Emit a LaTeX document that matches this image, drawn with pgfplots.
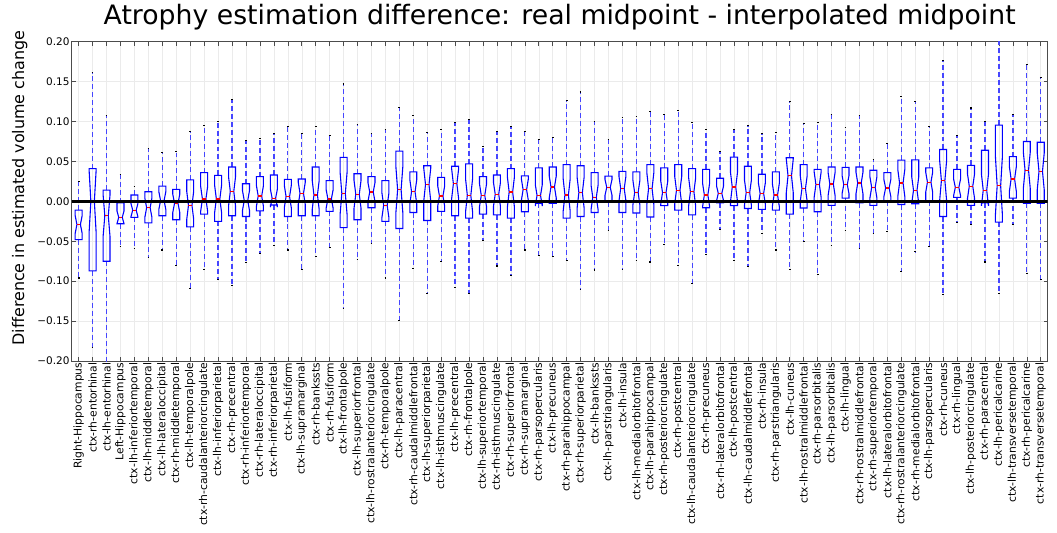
\documentclass[border=0pt]{standalone}
\usepackage{fontspec}
\setmainfont{DejaVu Sans}
\usepackage{pgfplots}
\pgfplotsset{compat=1.18}
\definecolor{wblue}{RGB}{70,70,255}
% #1 position, #2 lower whisker, #3 lower quartile, #4 median, #5 upper quartile, #6 upper whisker
\newcommand{\bx}[6]{%
  \pgfmathsetmacro\xl{#1-0.25}\pgfmathsetmacro\xr{#1+0.25}%
  \pgfmathsetmacro\xnl{#1-0.125}\pgfmathsetmacro\xnr{#1+0.125}%
  \pgfmathsetmacro\cl{#1-0.0625}\pgfmathsetmacro\cr{#1+0.0625}%
  \pgfmathsetmacro\nlo{#4-0.3*(#5-(#3))}\pgfmathsetmacro\nhi{#4+0.3*(#5-(#3))}%
  \addplot[color=wblue, line width=1.3pt, dash pattern=on 5pt off 3pt] coordinates {(#1,#3) (#1,#2)};
  \addplot[color=wblue, line width=1.3pt, dash pattern=on 5pt off 3pt] coordinates {(#1,#5) (#1,#6)};
  \addplot[color=black, line width=1.1pt] coordinates {(\cl,#2) (\cr,#2)};
  \addplot[color=black, line width=1.1pt] coordinates {(\cl,#6) (\cr,#6)};
  \addplot[color=blue, line width=1.1pt] coordinates {(\xl,#3) (\xl,\nlo) (\xnl,#4) (\xl,\nhi) (\xl,#5) (\xr,#5) (\xr,\nhi) (\xnr,#4) (\xr,\nlo) (\xr,#3)} -- cycle;
  \addplot[color=red, line width=1.1pt] coordinates {(\xnl,#4) (\xnr,#4)};
}
\begin{document}
\begin{tikzpicture}
\begin{axis}[
  scale only axis, width=976bp, height=319.3bp,
  xmin=0.5, xmax=70.5, ymin=-0.2, ymax=0.2,
  axis line style={black!70, line width=0.9pt},
  tick style={black!70, line width=0.6pt},
  major tick length=4bp,
  grid=major, grid style={black!8, line width=0.5pt},
  xtick={1,...,70},
  xticklabels={Right-Hippocampus,ctx-rh-entorhinal,ctx-lh-entorhinal,Left-Hippocampus,ctx-lh-inferiortemporal,ctx-lh-middletemporal,ctx-lh-lateraloccipital,ctx-rh-middletemporal,ctx-lh-temporalpole,ctx-rh-caudalanteriorcingulate,ctx-lh-inferiorparietal,ctx-rh-precentral,ctx-rh-inferiortemporal,ctx-rh-lateraloccipital,ctx-rh-inferiorparietal,ctx-lh-fusiform,ctx-lh-supramarginal,ctx-rh-bankssts,ctx-rh-fusiform,ctx-lh-frontalpole,ctx-lh-superiorfrontal,ctx-lh-rostralanteriorcingulate,ctx-rh-temporalpole,ctx-lh-paracentral,ctx-rh-caudalmiddlefrontal,ctx-lh-superiorparietal,ctx-lh-isthmuscingulate,ctx-lh-precentral,ctx-rh-frontalpole,ctx-lh-superiortemporal,ctx-rh-isthmuscingulate,ctx-rh-superiorfrontal,ctx-rh-supramarginal,ctx-rh-parsopercularis,ctx-lh-precuneus,ctx-rh-parahippocampal,ctx-rh-superiorparietal,ctx-lh-bankssts,ctx-lh-parstriangularis,ctx-lh-insula,ctx-lh-medialorbitofrontal,ctx-lh-parahippocampal,ctx-rh-posteriorcingulate,ctx-rh-postcentral,ctx-lh-caudalanteriorcingulate,ctx-rh-precuneus,ctx-rh-lateralorbitofrontal,ctx-lh-postcentral,ctx-lh-caudalmiddlefrontal,ctx-rh-insula,ctx-rh-parstriangularis,ctx-lh-cuneus,ctx-lh-rostralmiddlefrontal,ctx-rh-parsorbitalis,ctx-lh-parsorbitalis,ctx-lh-lingual,ctx-rh-rostralmiddlefrontal,ctx-rh-superiortemporal,ctx-lh-lateralorbitofrontal,ctx-rh-rostralanteriorcingulate,ctx-rh-medialorbitofrontal,ctx-lh-parsopercularis,ctx-rh-cuneus,ctx-rh-lingual,ctx-lh-posteriorcingulate,ctx-rh-paracentral,ctx-lh-pericalcarine,ctx-lh-transversetemporal,ctx-rh-pericalcarine,ctx-rh-transversetemporal},
  ytick={-0.2,-0.15,-0.1,-0.05,0,0.05,0.1,0.15,0.2},
  yticklabels={−0.20,−0.15,−0.10,−0.05,0.00,0.05,0.10,0.15,0.20},
  x tick label style={rotate=90, anchor=east, font=\fontsize{10.8}{11}\selectfont, inner sep=1.5bp},
  y tick label style={font=\fontsize{10.5}{11}\selectfont, inner sep=2bp},
  title={Atrophy estimation difference: real midpoint - interpolated midpoint},
  title style={font=\fontsize{26.8}{28}\selectfont, at={(0.5,1)}, anchor=base, yshift=11bp},
  ylabel={Difference in estimated volume change},
  ylabel style={font=\fontsize{16}{18}\selectfont, at={(axis description cs:-0.0533,0.542)}, anchor=center},
]
\bx{1}{-0.096}{-0.048}{-0.029}{-0.011}{0.025}
\bx{2}{-0.183}{-0.087}{0.000}{0.041}{0.161}
\bx{3}{-0.21}{-0.075}{-0.018}{0.014}{0.1075}
\bx{4}{-0.057}{-0.028}{-0.020}{-0.002}{0.034}
\bx{5}{-0.059}{-0.020}{-0.011}{0.008}{0.019}
\bx{6}{-0.070}{-0.027}{-0.008}{0.012}{0.066}
\bx{7}{-0.061}{-0.018}{0.001}{0.019}{0.061}
\bx{8}{-0.080}{-0.023}{-0.0025}{0.015}{0.063}
\bx{9}{-0.109}{-0.032}{-0.005}{0.027}{0.0875}
\bx{10}{-0.085}{-0.016}{0.003}{0.036}{0.0946}
\bx{11}{-0.098}{-0.025}{0.003}{0.0325}{0.0996}
\bx{12}{-0.105}{-0.018}{0.0125}{0.043}{0.128}
\bx{13}{-0.077}{-0.019}{0.001}{0.022}{0.076}
\bx{14}{-0.065}{-0.012}{0.0067}{0.031}{0.079}
\bx{15}{-0.055}{-0.0046}{0.004}{0.033}{0.0846}
\bx{16}{-0.061}{-0.019}{0.006}{0.0275}{0.094}
\bx{17}{-0.085}{-0.018}{0.010}{0.028}{0.085}
\bx{18}{-0.069}{-0.018}{0.008}{0.043}{0.094}
\bx{19}{-0.058}{-0.0125}{0.003}{0.026}{0.082}
\bx{20}{-0.134}{-0.033}{0.010}{0.055}{0.147}
\bx{21}{-0.0725}{-0.023}{0.0088}{0.0346}{0.096}
\bx{22}{-0.053}{-0.008}{0.0117}{0.031}{0.085}
\bx{23}{-0.096}{-0.025}{-0.005}{0.026}{0.090}
\bx{24}{-0.149}{-0.034}{0.0146}{0.063}{0.1175}
\bx{25}{-0.084}{-0.014}{0.012}{0.037}{0.108}
\bx{26}{-0.115}{-0.024}{0.021}{0.0446}{0.0867}
\bx{27}{-0.075}{-0.0125}{0.0067}{0.030}{0.0896}
\bx{28}{-0.108}{-0.018}{0.022}{0.044}{0.099}
\bx{29}{-0.1155}{-0.021}{0.0075}{0.047}{0.1025}
\bx{30}{-0.049}{-0.016}{0.0075}{0.031}{0.069}
\bx{31}{-0.081}{-0.017}{0.0088}{0.033}{0.088}
\bx{32}{-0.093}{-0.021}{0.0117}{0.041}{0.094}
\bx{33}{-0.061}{-0.013}{0.0146}{0.032}{0.088}
\bx{34}{-0.068}{-0.0025}{0.0075}{0.042}{0.077}
\bx{35}{-0.069}{-0.0025}{0.018}{0.043}{0.0796}
\bx{36}{-0.074}{-0.021}{0.008}{0.046}{0.126}
\bx{37}{-0.110}{-0.019}{0.011}{0.0446}{0.137}
\bx{38}{-0.086}{-0.014}{0.005}{0.036}{0.0996}
\bx{39}{-0.037}{-0.001}{0.0175}{0.0317}{0.078}
\bx{40}{-0.085}{-0.014}{0.016}{0.0375}{0.1046}
\bx{41}{-0.074}{-0.0146}{0.011}{0.037}{0.106}
\bx{42}{-0.076}{-0.0196}{0.016}{0.046}{0.113}
\bx{43}{-0.054}{-0.0054}{0.011}{0.042}{0.109}
\bx{44}{-0.080}{-0.011}{0.014}{0.046}{0.114}
\bx{45}{-0.103}{-0.017}{0.012}{0.041}{0.099}
\bx{46}{-0.067}{-0.008}{0.008}{0.040}{0.0896}
\bx{47}{-0.035}{-0.0017}{0.010}{0.029}{0.062}
\bx{48}{-0.074}{-0.0054}{0.018}{0.0554}{0.0896}
\bx{49}{-0.082}{-0.009}{0.011}{0.044}{0.095}
\bx{50}{-0.040}{-0.010}{0.010}{0.034}{0.085}
\bx{51}{-0.061}{-0.011}{0.008}{0.037}{0.0867}
\bx{52}{-0.085}{-0.016}{0.032}{0.0546}{0.125}
\bx{53}{-0.050}{-0.0083}{0.016}{0.046}{0.098}
\bx{54}{-0.092}{-0.013}{0.021}{0.040}{0.099}
\bx{55}{-0.055}{-0.005}{0.0217}{0.043}{0.109}
\bx{56}{-0.037}{0.004}{0.021}{0.0425}{0.093}
\bx{57}{-0.059}{-0.002}{0.023}{0.043}{0.108}
\bx{58}{-0.040}{-0.005}{0.0175}{0.039}{0.0525}
\bx{59}{-0.0375}{0.000}{0.0167}{0.036}{0.072}
\bx{60}{-0.0875}{-0.004}{0.023}{0.0517}{0.1317}
\bx{61}{-0.063}{-0.003}{0.014}{0.052}{0.1246}
\bx{62}{-0.057}{0.000}{0.024}{0.042}{0.094}
\bx{63}{-0.117}{-0.019}{0.026}{0.065}{0.176}
\bx{64}{-0.026}{0.005}{0.0175}{0.040}{0.083}
\bx{65}{-0.029}{-0.005}{0.019}{0.045}{0.117}
\bx{66}{-0.076}{-0.0017}{0.014}{0.064}{0.0996}
\bx{67}{-0.1155}{-0.026}{0.0196}{0.0954}{0.215}
\bx{68}{-0.029}{0.004}{0.028}{0.056}{0.109}
\bx{69}{-0.090}{-0.0025}{0.039}{0.075}{0.1717}
\bx{70}{-0.098}{-0.0025}{0.0375}{0.074}{0.1546}
\addplot[black, line width=3.5pt] coordinates {(0.5,0) (70.5,0)};
\end{axis}
\pgfresetboundingbox
\path ([shift={(-71.7bp,-171bp)}]current axis.south west) rectangle ([shift={(9.3bp,41.7bp)}]current axis.north east);
\end{tikzpicture}
\end{document}
